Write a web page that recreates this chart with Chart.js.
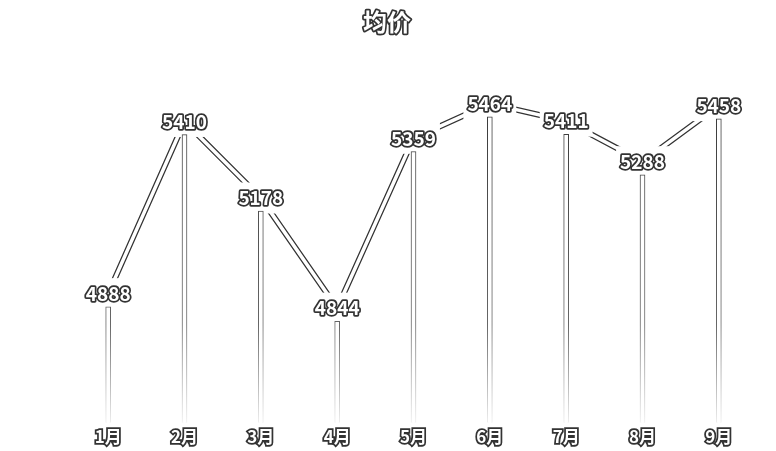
<!DOCTYPE html>
<html><head><meta charset="utf-8">
<script src="https://cdn.jsdelivr.net/npm/chart.js@4"></script>
<style>html,body{margin:0;padding:0;background:#fff;}canvas{display:block}</style>
</head><body>
<canvas id="c" width="776" height="451"></canvas>
<script>
const titleText = '均价';
const categories = ['1月','2月','3月','4月','5月','6月','7月','8月','9月'];
const avgPrice = [4888, 5410, 5178, 4844, 5359, 5464, 5411, 5288, 5458];
const yMin = 4537, yMax = 5603, labelShift = 40;

const FONT = '"Noto Sans CJK SC", "Noto Sans", sans-serif';
const OUT = '#333';

function outlinedText(ctx, text, x, y, font, lw) {
  ctx.save();
  ctx.font = font; ctx.textAlign = 'center'; ctx.textBaseline = 'middle';
  ctx.lineJoin = 'round'; ctx.lineWidth = lw; ctx.strokeStyle = OUT;
  ctx.strokeText(text, x, y);
  ctx.fillStyle = '#fff'; ctx.fillText(text, x, y);
  ctx.restore();
}

const labelPlugin = {
  id: 'outlinedLabels',
  afterDatasetDraw(chart, args) {
    if (args.index !== 1) return;
    const ctx = chart.ctx, meta = chart.getDatasetMeta(1);
    ctx.save(); ctx.font = 'bold 19px ' + FONT; ctx.fillStyle = '#fff';
    meta.data.forEach((pt, i) => {
      const w = ctx.measureText(String(avgPrice[i])).width + 8, h = 31;
      ctx.fillRect(pt.x - w / 2, pt.y - h / 2, w, h);
    });
    ctx.restore();
  },
  afterDatasetsDraw(chart) {
    const meta = chart.getDatasetMeta(1);
    meta.data.forEach((pt, i) => outlinedText(chart.ctx, String(avgPrice[i]), pt.x, pt.y, 'bold 19px ' + FONT, 3.5));
    outlinedText(chart.ctx, titleText, 387, 22, 'bold 24px ' + FONT, 3.5);
  }
};

function barBorder(c) {
  const chart = c.chart, ca = chart.chartArea;
  if (!ca) return OUT;
  const g = chart.ctx.createLinearGradient(0, ca.top, 0, ca.bottom);
  g.addColorStop(0, '#333'); g.addColorStop(0.72, '#666'); g.addColorStop(1, '#eee');
  return g;
}

new Chart(document.getElementById('c'), {
  type: 'bar',
  data: {
    labels: categories,
    datasets: [
      { type: 'line', data: avgPrice, yAxisID: 'y2', borderColor: OUT, borderWidth: 6, pointRadius: 0, tension: 0, order: 3 },
      { type: 'line', data: avgPrice, yAxisID: 'y2', borderColor: '#fff', borderWidth: 3.5, pointRadius: 0, tension: 0, order: 2 },
      { type: 'bar', data: avgPrice, yAxisID: 'y', backgroundColor: '#fff', borderColor: barBorder, borderWidth: 1, barThickness: 5, order: 1 }
    ]
  },
  options: {
    responsive: false, animation: false,
    layout: { padding: { left: 70, right: 19, top: 71, bottom: 0 } },
    plugins: { legend: { display: false }, tooltip: { enabled: false }, title: { display: false } },
    scales: {
      x: {
        grid: { display: false, drawTicks: false }, border: { display: false },
        ticks: { color: '#fff', textStrokeColor: OUT, textStrokeWidth: 3.5, padding: 4, font: { family: FONT, size: 17, weight: 'bold' } }
      },
      y: { display: false, min: yMin, max: yMax },
      y2: { display: false, min: yMin - labelShift, max: yMax - labelShift }
    }
  },
  plugins: [labelPlugin]
});
</script>
</body></html>
